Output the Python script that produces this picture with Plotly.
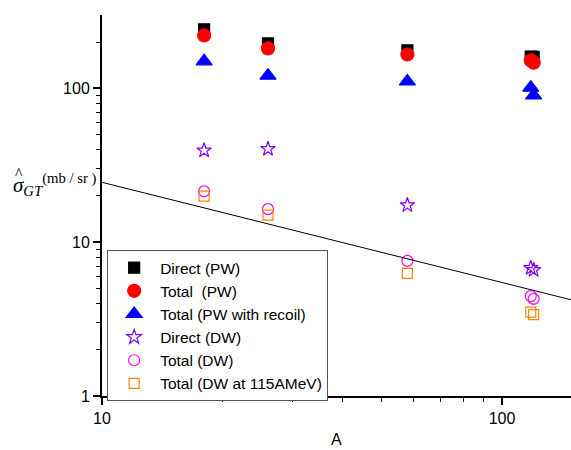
import plotly.graph_objects as go

A = [18, 26, 58, 118, 120]
direct_pw = [242, 196, 177, 161, 160]
total_pw = [221, 182, 166, 152, 147]
total_pw_recoil = [150, 121, 111, 101, 90]
direct_dw = [39.5, 40.4, 17.4, 6.8, 6.6]
total_dw = [21.4, 16.4, 7.56, 4.46, 4.28]
total_dw_115 = [19.9, 15.0, 6.27, 3.51, 3.38]
line_A = [10, 150]
line_sigma = [24.5, 4.2]

series = [
    ("Direct (PW)", direct_pw, "square", "#000000", 11),
    ("Total  (PW)", total_pw, "circle", "#FF0000", 13),
    ("Total (PW with recoil)", total_pw_recoil, "triangle-up", "#0000FF", 14),
    ("Direct (DW)", direct_dw, "star-open", "#8000FF", 11),
    ("Total (DW)", total_dw, "circle-open", "#FF00FF", 11),
    ("Total (DW at 115AMeV)", total_dw_115, "square-open", "#FF8000", 10),
]

fig = go.Figure()
for name, ys, sym, col, sz in series:
    fig.add_trace(go.Scatter(
        x=A, y=ys, mode="markers", name=name,
        marker=dict(symbol=sym, color=col, size=sz, line=dict(color=col, width=1.2)),
    ))
fig.add_trace(go.Scatter(x=line_A, y=line_sigma, mode="lines", showlegend=False,
                         line=dict(color="black", width=1)))

minor_y = [v * d for d in (1, 10, 100) for v in range(2, 10) if v * d < 300]
minor_x = [v * d for d in (10, 100) for v in range(2, 10) if v * d < 150]

fig.update_layout(
    width=571, height=450,
    margin=dict(l=102, r=0, t=15, b=54),
    plot_bgcolor="white", paper_bgcolor="white",
    font=dict(family="Arial, Liberation Sans", size=16, color="black"),
    xaxis=dict(type="log", range=[1, 2.1725], showgrid=False, zeroline=False, automargin=False,
               showline=True, linecolor="black", linewidth=2,
               ticks="outside", ticklen=7, tickwidth=1.5, tickcolor="black",
               tickvals=[10, 100], ticktext=["10", "100"],
               minor=dict(tickvals=minor_x, ticks="outside", ticklen=4, tickcolor="black", tickwidth=1)),
    yaxis=dict(type="log", range=[0, 2.477], showgrid=False, zeroline=False, automargin=False,
               showline=True, linecolor="black", linewidth=2,
               ticks="outside", ticklen=7, tickwidth=1.5, tickcolor="black",
               tickvals=[1, 10, 100], ticktext=["1", "10", "100"],
               minor=dict(tickvals=minor_y, ticks="outside", ticklen=4, tickcolor="black", tickwidth=1)),
    legend=dict(x=0.011, y=0.383, xanchor="left", yanchor="top",
                bordercolor="#555555", borderwidth=1, bgcolor="white",
                font=dict(size=15.5), tracegroupgap=0, itemsizing="trace", itemwidth=42),
    showlegend=True,
)
fig.add_annotation(
    xref="paper", yref="paper", x=0.5, y=-0.115, xanchor="center", yanchor="middle",
    text="A", showarrow=False, font=dict(size=16),
)
fig.add_annotation(
    xref="paper", yref="paper", x=-0.195, y=0.555, xanchor="left", yanchor="middle",
    text="<i>σ</i><sub><i>GT</i></sub><sup>(mb / sr )</sup>", showarrow=False,
    font=dict(family="Times New Roman, Liberation Serif", size=21),
)
fig.add_annotation(
    xref="paper", yref="paper", x=-0.178, y=0.585, xanchor="center", yanchor="middle",
    text="^", showarrow=False,
    font=dict(family="Times New Roman, Liberation Serif", size=16),
)
fig.write_html("out.html", config={"displayModeBar": False},
               post_script="document.body.style.margin='0';document.body.style.overflow='hidden';")
